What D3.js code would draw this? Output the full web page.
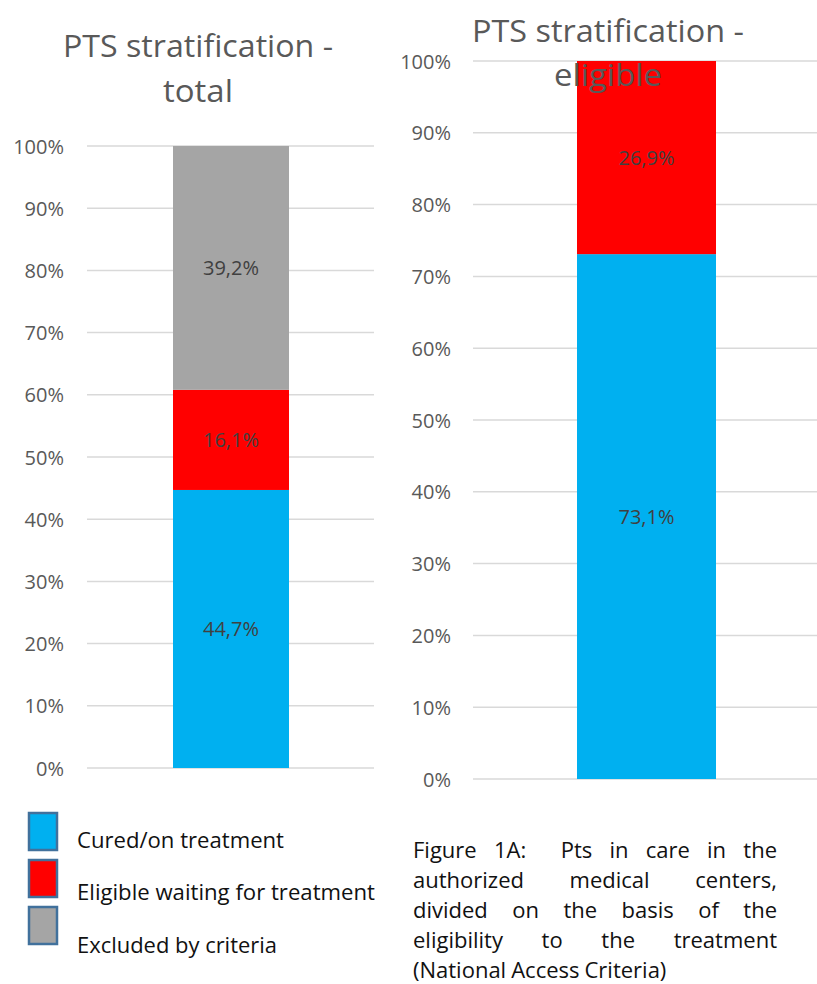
<!DOCTYPE html>
<html>
<head>
<meta charset="utf-8">
<script src="https://cdn.jsdelivr.net/npm/d3@7"></script>
<style>
  body { margin: 0; background: #fff; }
  text { font-family: "Open Sans", sans-serif; }
</style>
</head>
<body>
<script>
// données
const series = ["Cured/on treatment", "Eligible waiting for treatment", "Excluded by criteria"]
const colors = ["#00b0f0", "#ff0000", "#a5a5a5"]
const totalValues = [44.7, 16.1, 39.2]
const eligibleValues = [73.1, 26.9]
const yTicks = [0, 10, 20, 30, 40, 50, 60, 70, 80, 90, 100]
const caption = [
  "Figure 1A:  Pts in care in the",
  "authorized medical centers,",
  "divided on the basis of the",
  "eligibility to the treatment",
  "(National Access Criteria)"
]

const svg = d3.select("body")
    .append("svg")
    .attr("width", 817)
    .attr("height", 984)

function drawChart(cfg) {
  const y = d3.scaleLinear().domain([0, 100]).range([cfg.y0, cfg.y1])
  const g = svg.append("g")

  // lignes de grille
  g.selectAll(".grid")
    .data(yTicks)
    .enter()
    .append("line")
    .attr("x1", cfg.gx0)
    .attr("x2", cfg.gx1)
    .attr("y1", d => y(d))
    .attr("y2", d => y(d))
    .attr("stroke", "#d9d9d9")
    .attr("stroke-width", 1.5)

  // axe
  const axis = g.append("g")
    .attr("transform", `translate(${cfg.labelX},0)`)
    .call(d3.axisLeft(y).tickValues(yTicks).tickSize(0).tickFormat(d => d + "%"))
  axis.select(".domain").remove()
  axis.selectAll("text")
    .attr("x", 0)
    .attr("dy", "0.35em")
    .attr("fill", "#595959")
    .style("font-family", "'Open Sans', sans-serif")
    .style("font-size", "20px")

  // barres empilées
  let acc = 0
  const segs = cfg.values.map((v, i) => {
    const s = { v: v, lo: acc, hi: acc + v, c: colors[i] }
    acc += v
    return s
  })
  g.selectAll(".seg")
    .data(segs)
    .enter()
    .append("rect")
    .attr("x", cfg.bx0)
    .attr("width", cfg.bx1 - cfg.bx0)
    .attr("y", d => y(Math.min(d.hi, 100)))
    .attr("height", d => y(d.lo) - y(Math.min(d.hi, 100)))
    .attr("fill", d => d.c)

  g.selectAll(".lab")
    .data(segs)
    .enter()
    .append("text")
    .attr("x", (cfg.bx0 + cfg.bx1) / 2)
    .attr("y", d => y((d.lo + Math.min(d.hi, 100)) / 2))
    .attr("dy", "0.35em")
    .attr("text-anchor", "middle")
    .attr("fill", "#404040")
    .attr("font-size", 20)
    .text(d => d.v.toFixed(1).replace(".", ",") + "%")

  // titre (au-dessus des barres)
  cfg.title.forEach((t, i) => {
    g.append("text")
      .attr("x", cfg.titleX)
      .attr("y", cfg.titleY[i])
      .attr("text-anchor", "middle")
      .attr("fill", "#595959")
      .attr("font-size", 31)
      .attr("textLength", cfg.titleW[i])
      .attr("lengthAdjust", "spacingAndGlyphs")
      .text(t)
  })
}

drawChart({
  title: ["PTS stratification -", "total"], titleX: 198, titleY: [57, 102], titleW: [270, 70],
  values: totalValues, y0: 768, y1: 146, gx0: 87, gx1: 374, labelX: 64, bx0: 173, bx1: 289
})

drawChart({
  title: ["PTS stratification -", "eligible"], titleX: 608, titleY: [42, 86], titleW: [272, 108],
  values: eligibleValues, y0: 779, y1: 61, gx0: 473, gx1: 817, labelX: 451, bx0: 577, bx1: 716
})

// légende
const legendY = [813, 860, 907]
const legendTextY = [848, 900, 953]
const legend = svg.append("g")
legend.selectAll("rect")
  .data(series)
  .enter()
  .append("rect")
  .attr("x", 29)
  .attr("y", (d, i) => legendY[i])
  .attr("width", 28)
  .attr("height", 37)
  .attr("fill", (d, i) => colors[i])
  .attr("stroke", "#41719c")
  .attr("stroke-width", 2.5)
legend.selectAll("text")
  .data(series)
  .enter()
  .append("text")
  .attr("x", 77)
  .attr("y", (d, i) => legendTextY[i])
  .attr("font-size", 21)
  .attr("fill", "#111")
  .attr("textLength", (d, i) => [207, 298, 200][i])
  .attr("lengthAdjust", "spacingAndGlyphs")
  .text(d => d)

// légende de la figure, texte justifié (double espace = double écart)
const capX0 = 413, capX1 = 777
caption.forEach((line, li) => {
  const parts = line.split(/( +)/)
  const words = parts.filter((p, i) => i % 2 === 0)
  const weights = parts.filter((p, i) => i % 2 === 1).map(s => s.length)
  const cy = 858 + li * 30
  const nodes = words.map(w => svg.append("text")
    .attr("y", cy)
    .attr("font-size", 22)
    .attr("fill", "#111")
    .text(w))
  const widths = nodes.map(n => n.node().getComputedTextLength())
  const last = li === caption.length - 1
  const unit = last ? 5 : (capX1 - capX0 - d3.sum(widths)) / d3.sum(weights)
  let x = capX0
  nodes.forEach((n, i) => {
    n.attr("x", x)
    x += widths[i] + (i < weights.length ? unit * weights[i] : 0)
  })
})
</script>
</body>
</html>
